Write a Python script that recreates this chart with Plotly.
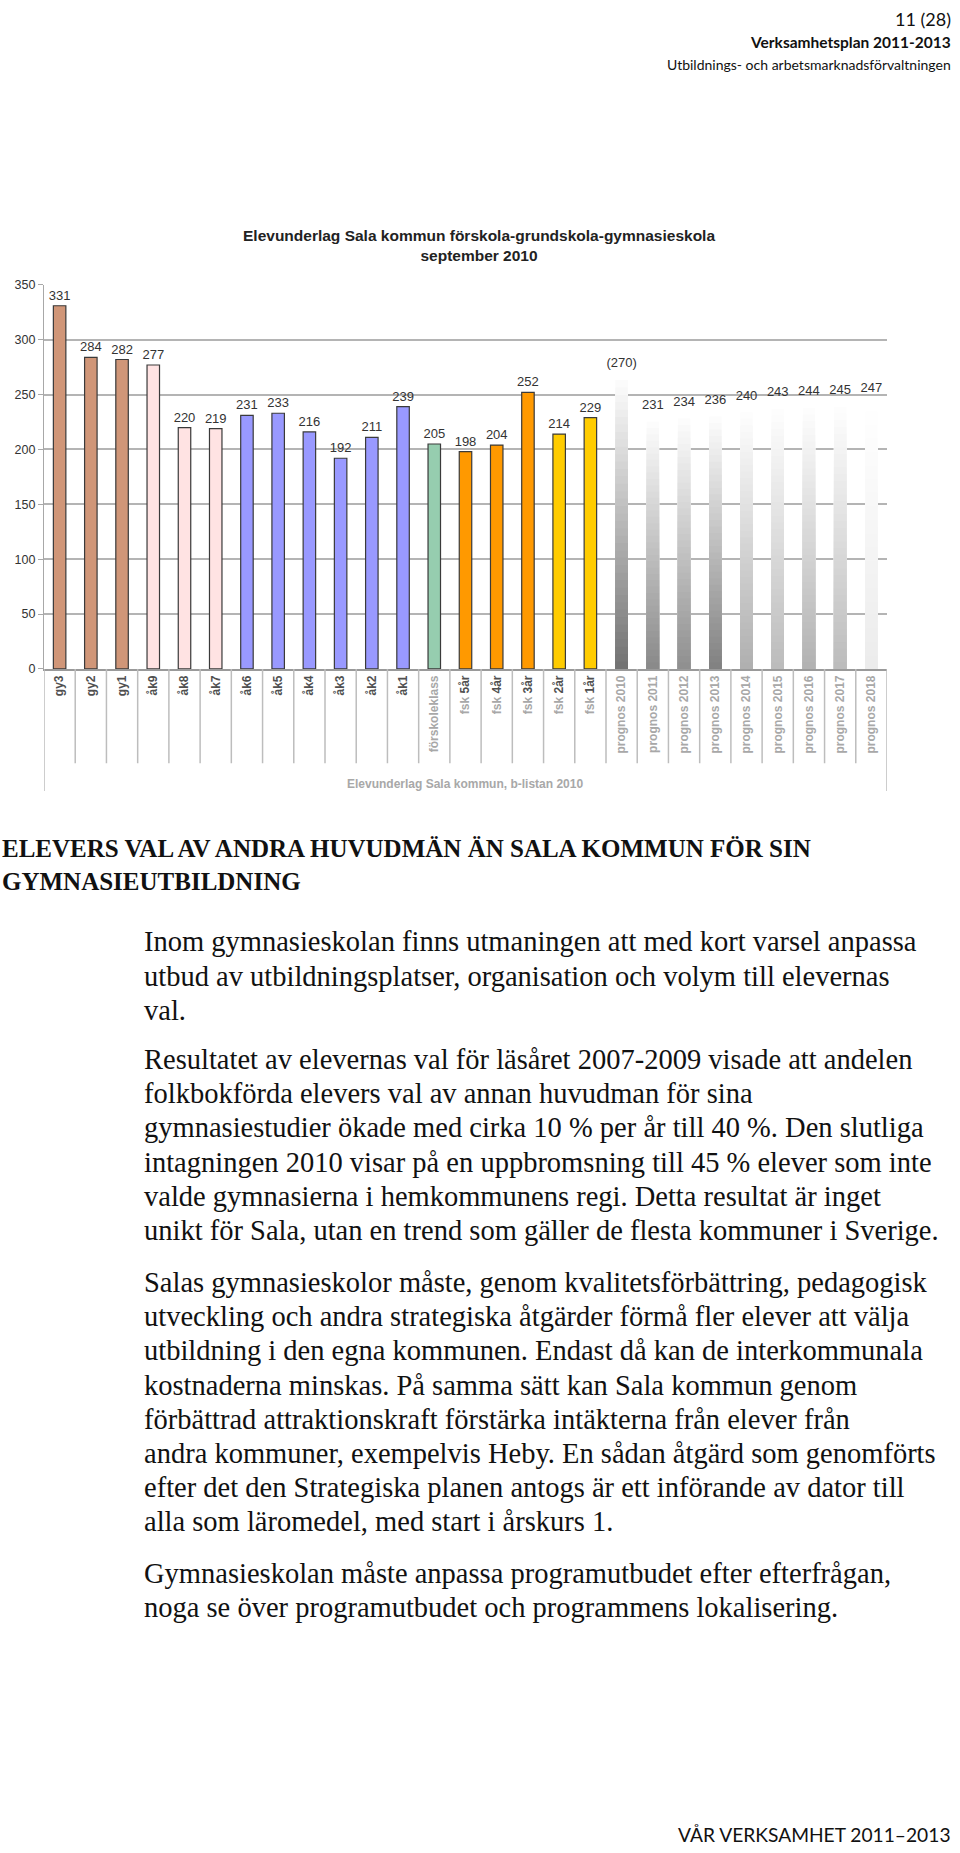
import plotly.graph_objects as go

W, H = 960, 1853

# ---------------- data ----------------
categories = ["gy3", "gy2", "gy1", "åk9", "åk8", "åk7", "åk6", "åk5", "åk4", "åk3", "åk2", "åk1",
              "förskoleklass", "fsk 5år", "fsk 4år", "fsk 3år", "fsk 2år", "fsk 1år",
              "prognos 2010", "prognos 2011", "prognos 2012", "prognos 2013", "prognos 2014",
              "prognos 2015", "prognos 2016", "prognos 2017", "prognos 2018"]
actual_values = [331, 284, 282, 277, 220, 219, 231, 233, 216, 192, 211, 239, 205, 198, 204, 252, 214, 229]
prognos_values = [270, 231, 234, 236, 240, 243, 244, 245, 247]
groups = ["gy"] * 3 + ["hog"] * 3 + ["lag"] * 6 + ["fk"] + ["fsk_a"] * 3 + ["fsk_b"] * 2
group_colors = {"gy": "#D09678", "hog": "#FFE3E3", "lag": "#9999FF", "fk": "#96CDAF",
                "fsk_a": "#FF9900", "fsk_b": "#FFCC00"}
prognos_bottom_gray = [115, 138, 144, 130, 176, 188, 178, 188, 236]
y_ticks = [0, 50, 100, 150, 200, 250, 300, 350]

chart_title = "Elevunderlag Sala kommun förskola-grundskola-gymnasieskola<br>september 2010"
source_text = "Elevunderlag Sala kommun, b-listan 2010"

header_lines = ["11 (28)", "<b>Verksamhetsplan 2011-2013</b>", "Utbildnings- och arbetsmarknadsförvaltningen"]
footer_text = "VÅR VERKSAMHET 2011–2013"
heading_lines = ["ELEVERS VAL AV ANDRA HUVUDMÄN ÄN SALA KOMMUN FÖR SIN", "GYMNASIEUTBILDNING"]
paragraphs = [
    ["Inom gymnasieskolan finns utmaningen att med kort varsel anpassa",
     "utbud av utbildningsplatser, organisation och volym till elevernas",
     "val."],
    ["Resultatet av elevernas val för läsåret 2007-2009 visade att andelen",
     "folkbokförda elevers val av annan huvudman för sina",
     "gymnasiestudier ökade med cirka 10 % per år till 40 %. Den slutliga",
     "intagningen 2010 visar på en uppbromsning till 45 % elever som inte",
     "valde gymnasierna i hemkommunens regi. Detta resultat är inget",
     "unikt för Sala, utan en trend som gäller de flesta kommuner i Sverige."],
    ["Salas gymnasieskolor måste, genom kvalitetsförbättring, pedagogisk",
     "utveckling och andra strategiska åtgärder förmå fler elever att välja",
     "utbildning i den egna kommunen. Endast då kan de interkommunala",
     "kostnaderna minskas. På samma sätt kan Sala kommun genom",
     "förbättrad attraktionskraft förstärka intäkterna från elever från",
     "andra kommuner, exempelvis Heby. En sådan åtgärd som genomförts",
     "efter det den Strategiska planen antogs är ett införande av dator till",
     "alla som läromedel, med start i årskurs 1."],
    ["Gymnasieskolan måste anpassa programutbudet efter efterfrågan,",
     "noga se över programutbudet och programmens lokalisering."],
]
paragraph_tops = [942, 1060.5, 1285, 1578]

# ---------------- helpers ----------------
def px(x):
    return x / W

def py(y):
    return 1 - y / H

n_act = len(actual_values)
x_act = list(range(n_act))
x_prog = list(range(n_act, n_act + len(prognos_values)))
BAR_W = 0.4
label_font = dict(family="Liberation Sans, Arial", size=13, color="#333333")

fig = go.Figure()

# actual coloured bars
fig.add_trace(go.Bar(
    x=x_act, y=actual_values, width=BAR_W,
    marker=dict(color=[group_colors[g] for g in groups], line=dict(color="#3a3a3a", width=1.2)),
    text=[str(v) for v in actual_values], textposition="outside", textfont=label_font,
    constraintext="none", cliponaxis=False, showlegend=False, hoverinfo="skip"))

# prognosis bars with vertical gradient (overlaid layers, lightest/tallest first)
K = 40
for k in range(K):
    frac = 1 - k / K
    t = k / (K - 1)
    cols = []
    for g in prognos_bottom_gray:
        c = int(round(255 - t * (255 - g)))
        cols.append(f"rgb({c},{c},{c})")
    fig.add_trace(go.Bar(
        x=x_prog, y=[v * frac for v in prognos_values], width=BAR_W,
        marker=dict(color=cols, line=dict(width=0)),
        text=([f"({v})" if i == 0 else str(v) for i, v in enumerate(prognos_values)] if k == 0 else None),
        textposition="outside" if k == 0 else "none", textfont=label_font,
        constraintext="none", cliponaxis=False, showlegend=False, hoverinfo="skip"))

tick_text = []
for c in categories:
    if c.startswith("prognos") or c == "förskoleklass":
        tick_text.append(f"<span style='color:#a8a8a8'>{c}</span>")
    elif c.startswith("fsk"):
        tick_text.append(f"<span style='color:#a8a8a8'>fsk</span> {c[4:]}")
    else:
        tick_text.append(c)
tick_text = [f"<b>{t}</b>" for t in tick_text]

n_cat = len(categories)
fig.update_layout(
    width=W, height=H, margin=dict(l=0, r=0, t=0, b=0),
    paper_bgcolor="white", plot_bgcolor="white",
    barmode="overlay", bargap=0.6,
    xaxis=dict(domain=[px(44), px(887)], range=[-0.5, n_cat - 0.5],
               tickmode="array", tickvals=list(range(n_cat)), ticktext=tick_text,
               tickangle=-90, tickfont=dict(family="Liberation Sans, Arial", size=12, color="#505050"),
               showline=True, linecolor="#9a9a9a", linewidth=1.5, showgrid=False, zeroline=False,
               ticks=""),
    yaxis=dict(domain=[py(667), py(280)], range=[0, 350], tickmode="array", tickvals=y_ticks,
               showgrid=True, gridcolor="#b4b4b4", gridwidth=1.5, zeroline=False,
               showline=True, linecolor="#a8a8a8", linewidth=1.2,
               ticks="outside", ticklen=5, tickcolor="#a8a8a8",
               tickfont=dict(family="Liberation Sans, Arial", size=12.5, color="#333333")),
    font=dict(family="Liberation Sans, Arial"),
)

shapes = []
# category separators in axis label area
for i in range(n_cat + 1):
    xb = i - 0.5
    bottom = 790 if i in (0, n_cat) else 762
    shapes.append(dict(type="line", xref="x", yref="paper", x0=xb, x1=xb, y0=py(667), y1=py(bottom),
                       line=dict(color="#bdbdbd", width=1.5)))
fig.update_layout(shapes=shapes)

ann = []
ann.append(dict(text=f"<b>{chart_title}</b>", x=px(479), y=py(240), xref="paper", yref="paper",
                xanchor="center", yanchor="middle", showarrow=False, align="center",
                font=dict(family="Liberation Sans, Arial", size=15.5, color="#222222")))
ann.append(dict(text=f"<b>{source_text}</b>", x=px(465), y=py(783), xref="paper", yref="paper",
                xanchor="center", yanchor="middle", showarrow=False,
                font=dict(family="Liberation Sans, Arial", size=12, color="#a8a8a8")))

head_y = [12, 35.5, 58]
head_sizes = [18, 15.5, 14]
for t, yy, s in zip(header_lines, head_y, head_sizes):
    ann.append(dict(text=t, x=px(953), y=py(yy), xref="paper", yref="paper", xanchor="right",
                    yanchor="middle", showarrow=False,
                    font=dict(family="Lato", size=s, color="#111111")))
ann.append(dict(text=footer_text, x=px(953), y=py(1841), xref="paper", yref="paper", xanchor="right",
                yanchor="middle", showarrow=False,
                font=dict(family="Lato", size=19.2, color="#111111")))

for t, yy in zip(heading_lines, [848, 881]):
    ann.append(dict(text=f"<b>{t}</b>", x=px(0), y=py(yy), xref="paper", yref="paper", xanchor="left",
                    yanchor="middle", showarrow=False,
                    font=dict(family="Liberation Serif", size=25, color="#111111")))

LINE = 34.5
for para, top in zip(paragraphs, paragraph_tops):
    for j, line in enumerate(para):
        ann.append(dict(text=line, x=px(142), y=py(top + j * LINE), xref="paper", yref="paper",
                        xanchor="left", yanchor="middle", showarrow=False,
                        font=dict(family="Liberation Serif", size=28.5, color="#111111")))
fig.update_layout(annotations=ann)

fig.write_html("out.html")
